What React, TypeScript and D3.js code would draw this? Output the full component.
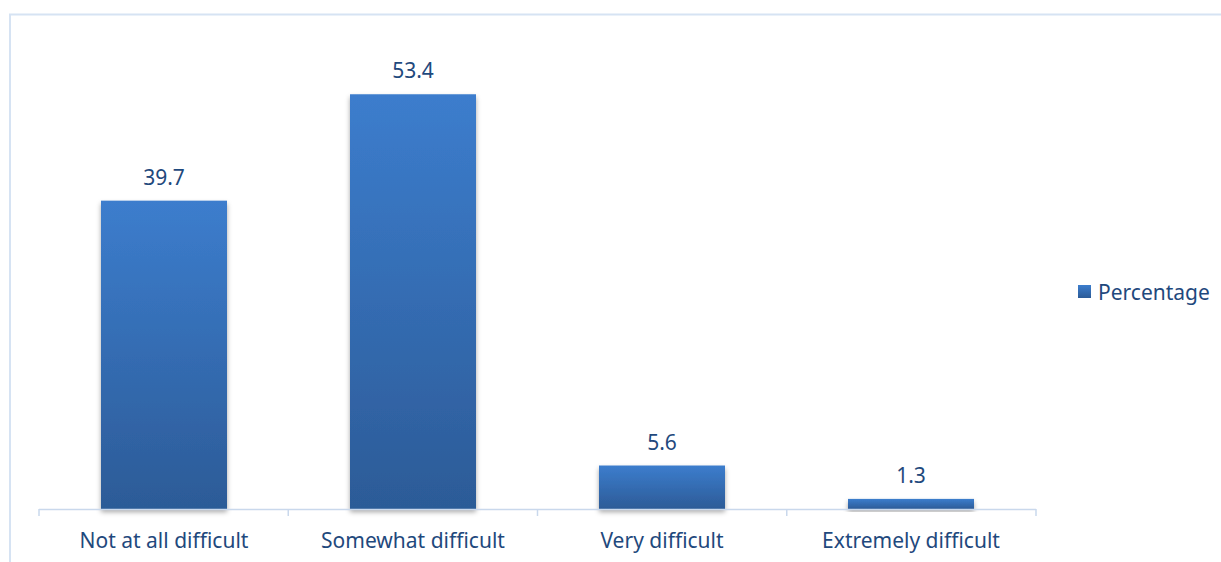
import * as React from 'react';
import { useRef, useEffect } from 'react';
import * as d3 from 'd3';

const categories = ['Not at all difficult', 'Somewhat difficult', 'Very difficult', 'Extremely difficult'];
const percentages = [39.7, 53.4, 5.6, 1.3];
const seriesName = 'Percentage';

const W = 1221;
const H = 562;
const textColor = '#1f497d';
const font = '"Noto Sans", "Open Sans", sans-serif';

const App = () => {
  const svgRef = useRef<SVGSVGElement>(null);

  useEffect(() => {
    const svg = d3.select(svgRef.current);
    svg.selectAll('*').remove();

    const defs = svg.append('defs');
    const gradient = defs.append('linearGradient')
      .attr('id', 'bar-gradient')
      .attr('x1', '0%').attr('y1', '0%')
      .attr('x2', '0%').attr('y2', '100%');
    gradient.append('stop').attr('offset', '0%').attr('stop-color', '#3c7dcd');
    gradient.append('stop').attr('offset', '100%').attr('stop-color', '#2c5b97');

    const shadow = defs.append('filter')
      .attr('id', 'bar-shadow')
      .attr('x', '-10%').attr('y', '-10%')
      .attr('width', '120%').attr('height', '130%');
    shadow.append('feDropShadow')
      .attr('dx', 0).attr('dy', 3)
      .attr('stdDeviation', 2.5)
      .attr('flood-color', '#000')
      .attr('flood-opacity', 0.35);

    // chart frame
    svg.append('rect')
      .attr('x', 10).attr('y', 14.5)
      .attr('width', W + 20).attr('height', H)
      .attr('fill', '#fff')
      .attr('stroke', '#d6e3f3')
      .attr('stroke-width', 2);

    const x = d3.scaleBand()
      .domain(categories)
      .range([39, 1036])
      .paddingInner(0.494)
      .paddingOuter(0.249);

    const y = d3.scaleLinear()
      .domain([0, 60])
      .range([509, 43]);

    const bars = svg.append('g');
    bars.selectAll('rect')
      .data(percentages)
      .join('rect')
      .attr('x', (_, i) => x(categories[i])!)
      .attr('y', (d) => y(d))
      .attr('width', x.bandwidth())
      .attr('height', (d) => y(0) - y(d))
      .attr('fill', 'url(#bar-gradient)')
      .attr('filter', 'url(#bar-shadow)');

    // x axis
    const step = (1036 - 39) / categories.length;
    const edges = d3.range(categories.length + 1).map((i) => 39 + i * step);
    const axis = svg.append('g').attr('stroke', '#c9d8ec').attr('stroke-width', 1.5);
    axis.append('line')
      .attr('x1', 39).attr('x2', 1036)
      .attr('y1', y(0) + 0.5).attr('y2', y(0) + 0.5);
    axis.selectAll('.tick')
      .data(edges)
      .join('line')
      .attr('class', 'tick')
      .attr('x1', (d) => d).attr('x2', (d) => d)
      .attr('y1', y(0)).attr('y2', y(0) + 7);

    svg.append('g')
      .selectAll('text')
      .data(categories)
      .join('text')
      .attr('x', (d) => x(d)! + x.bandwidth() / 2)
      .attr('y', 548)
      .attr('text-anchor', 'middle')
      .attr('font-family', font)
      .attr('font-size', 21)
      .attr('fill', textColor)
      .text((d) => d);

    // value labels
    svg.append('g')
      .selectAll('text')
      .data(percentages)
      .join('text')
      .attr('x', (_, i) => x(categories[i])! + x.bandwidth() / 2)
      .attr('y', (d) => y(d) - 16)
      .attr('text-anchor', 'middle')
      .attr('font-family', font)
      .attr('font-size', 21)
      .attr('fill', textColor)
      .text((d) => d.toFixed(1));

    // legend
    const legend = svg.append('g').attr('transform', 'translate(1078, 285)');
    legend.append('rect')
      .attr('width', 13).attr('height', 13)
      .attr('fill', 'url(#bar-gradient)');
    legend.append('text')
      .attr('x', 20).attr('y', 15)
      .attr('font-family', font)
      .attr('font-size', 21)
      .attr('fill', textColor)
      .text(seriesName);
  }, []);

  return (
    <svg
      ref={svgRef}
      width={W}
      height={H}
      style={{ position: 'absolute', left: 0, top: 0, background: '#fff' }}
    />
  );
};

export default App;
